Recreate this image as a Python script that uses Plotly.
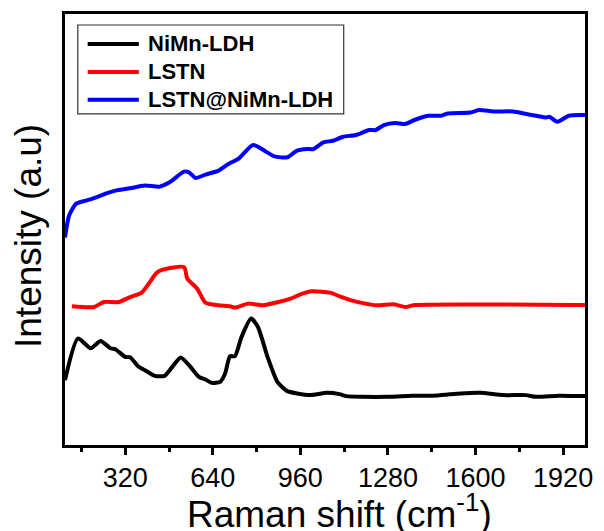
import plotly.graph_objects as go

# Raman spectra (x in cm^-1, intensity in arbitrary units, stacked offsets)
names = ["NiMn-LDH", "LSTN", "LSTN@NiMn-LDH"]
colors = ["#000000", "#ff0000", "#0000ff"]

nimn_x = [100, 147, 194, 230, 266, 284, 320, 338, 367, 392, 428, 464, 492, 523,
          553, 589, 613, 636, 667, 685, 703, 721, 745, 780, 805, 840, 876, 912,
          948, 995, 1056, 1103, 1128, 1187, 1282, 1367, 1461, 1546, 1618, 1702,
          1784, 1820, 1905, 1988, 2000]
nimn_y = [65, 106.7, 97, 104.3, 97, 96, 88.3, 88, 79, 75, 69.3, 69.3, 78.3, 87.7,
          80, 68.3, 65.7, 62.3, 63.3, 71.7, 89, 89, 108.3, 126.7, 118.3, 88.3,
          63.3, 54, 51.7, 50, 52.3, 51, 49, 48.3, 48.3, 49.3, 49.7, 51.7, 52.3,
          50, 50, 48.3, 49.3, 49, 49]

lstn_x = [125, 206, 242, 296, 338, 380, 410, 434, 457, 535, 547, 583, 613, 661,
          703, 721, 769, 822, 864, 924, 960, 1002, 1068, 1104, 1146, 1235, 1301,
          1343, 1379, 1995, 2000]
lstn_y = [139, 138.3, 143.3, 143.3, 148.3, 152.7, 163.3, 172.3, 175.7, 178.3,
          166.7, 156.7, 142.7, 140, 139, 137.7, 141.7, 140, 142.3, 146.7, 151,
          154, 152.7, 149, 145, 140, 141, 138.3, 140.3, 140.3, 140.3]

comp_x = [100, 115, 141, 176, 212, 248, 284, 331, 392, 446, 482, 535, 553, 577,
          613, 661, 697, 733, 787, 829, 865, 912, 948, 984, 1008, 1044, 1080,
          1116, 1163, 1211, 1235, 1265, 1307, 1343, 1379, 1427, 1474, 1498,
          1582, 1612, 1666, 1738, 1786, 1822, 1858, 1870, 1899, 1941, 1988, 2000]
comp_y = [208, 230, 242, 245, 248, 252, 255, 257, 260, 259, 263.3, 274, 273.3,
          267.7, 271, 275, 281.7, 286.7, 300.7, 295, 289.3, 288.3, 295, 296.7,
          296.7, 303.3, 305, 309, 310.7, 315.7, 315.7, 320.7, 322.7, 321.7, 326,
          330, 330, 332.3, 333.3, 335.7, 334.3, 334.3, 331.7, 330, 328.3, 329,
          324, 330, 330.7, 330.7]

x_ticks = [320, 640, 960, 1280, 1600, 1920]

FONT = "Liberation Sans, Arial, sans-serif"

fig = go.Figure()
for xs, ys, name, col in zip([nimn_x, lstn_x, comp_x], [nimn_y, lstn_y, comp_y],
                             names, colors):
    fig.add_trace(go.Scatter(x=xs, y=ys, mode="lines", name=name,
                             line=dict(color=col, width=4, shape="spline",
                                       smoothing=0.6),
                             showlegend=False))

# hand-drawn legend box in paper coordinates
leg_y = [0.9306, 0.8657, 0.8009]
shapes = [dict(type="rect", xref="paper", yref="paper", x0=0.0246, x1=0.536,
               y0=0.7685, y1=0.9745, line=dict(color="#333333", width=1.2),
               fillcolor="white", layer="above")]
annotations = []
for name, col, yy in zip(names, colors, leg_y):
    shapes.append(dict(type="line", xref="paper", yref="paper", x0=0.0436,
                       x1=0.142, y0=yy, y1=yy, line=dict(color=col, width=4),
                       layer="above"))
    annotations.append(dict(xref="paper", yref="paper", x=0.1553, y=yy,
                            xanchor="left", yanchor="middle", showarrow=False,
                            text="<b>%s</b>" % name,
                            font=dict(family=FONT, size=22, color="black")))

annotations.append(dict(xref="paper", yref="paper", x=0.528, y=-0.155,
                        xanchor="center", yanchor="middle", showarrow=False,
                        text="Raman shift (cm<sup>-1</sup>)",
                        font=dict(family=FONT, size=37, color="black")))
annotations.append(dict(xref="paper", yref="paper", x=-0.07, y=0.484,
                        xanchor="center", yanchor="middle", showarrow=False,
                        textangle=-90, text="Intensity (a.u)",
                        font=dict(family=FONT, size=37, color="black")))

fig.update_layout(
    width=604, height=531,
    margin=dict(l=65, r=11, t=13, b=86),
    paper_bgcolor="white", plot_bgcolor="white",
    shapes=shapes, annotations=annotations,
    xaxis=dict(range=[100, 2000], tickvals=x_ticks,
               ticktext=[str(v) for v in x_ticks],
               ticks="outside", ticklen=7, tickwidth=3, tickcolor="black",
               minor=dict(tickvals=[160, 480, 800, 1120, 1440, 1760],
                          ticks="outside", ticklen=4, tickwidth=3,
                          tickcolor="black"),
               showline=True, linewidth=3, linecolor="black", mirror=True,
               showgrid=False, zeroline=False,
               tickfont=dict(family=FONT, size=27, color="black")),
    yaxis=dict(range=[0, 432], showticklabels=False, ticks="",
               showline=True, linewidth=3, linecolor="black", mirror=True,
               showgrid=False, zeroline=False),
)

fig.write_html("out.html")
